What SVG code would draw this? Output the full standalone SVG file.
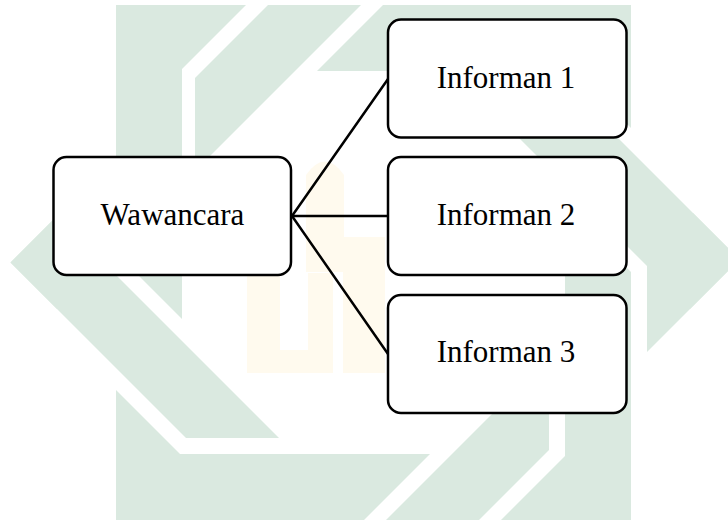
<svg xmlns="http://www.w3.org/2000/svg" width="728" height="520" viewBox="0 0 728 520">
  <defs>
    <style>
      .wm { fill: #dae9e0; }
      .wm-gold { fill: #fffaee; }
      .box { fill: #ffffff; stroke: #000000; stroke-width: 2.5; }
      .label { font-family: "Liberation Serif", "Times New Roman", serif; font-size: 31px; fill: #000000; text-anchor: middle; }
      .link { stroke: #000000; stroke-width: 2.5; fill: none; stroke-linecap: round; }
    </style>
    <clipPath id="page">
      <rect x="0" y="5" width="728" height="515"/>
    </clipPath>
  </defs>

  <rect x="0" y="0" width="728" height="520" fill="#ffffff"/>

  <!-- background emblem: interlaced square and diamond bands -->
  <g id="watermark" clip-path="url(#page)">
    <!-- square: top, left, bottom, right bands -->
    <polygon class="wm" points="116,5 246,5 180,71 116,71"/>
    <polygon class="wm" points="383,5 631,5 631,71 317,71"/>
    <polygon class="wm" points="116,5 182,5 182,319 116,253"/>
    <polygon class="wm" points="116,390 182,456 182,520 116,520"/>
    <polygon class="wm" points="116,454 430,454 364,520 116,520"/>
    <polygon class="wm" points="567,454 631,454 631,520 501,520"/>
    <polygon class="wm" points="565,5 631,5 631,128 565,62"/>
    <polygon class="wm" points="565,206 631,272 631,520 565,520"/>
    <!-- diamond: four slanted bands -->
    <polygon class="wm" points="195,78 195,171 366,0 273,0"/>
    <polygon class="wm" points="10.5,262.5 103,170 103,263 57,309"/>
    <polygon class="wm" points="57,216 279,438 186,438 10.5,262.5"/>
    <polygon class="wm" points="468,87 567,87 739.5,259.5 690,309"/>
    <polygon class="wm" points="647,259 693,213 739.5,259.5 647,352"/>
    <polygon class="wm" points="549,357 549,450 479,520 386,520"/>
    <!-- faint gold lettering in the centre -->
    <path class="wm-gold" d="M247,273 H333 V373 H247 Z M280,273 V350 H308 V273 Z" fill-rule="evenodd"/>
    <rect class="wm-gold" x="343" y="237" width="42" height="136"/>
    <path class="wm-gold" d="M306,272 V175 Q325,148 344,175 V272 Z"/>
  </g>

  <g id="connectors">
    <line class="link" x1="292" y1="216" x2="388" y2="79"/>
    <line class="link" x1="292" y1="216" x2="388" y2="216"/>
    <line class="link" x1="292" y1="216" x2="388" y2="354"/>
  </g>

  <g id="node-wawancara">
    <rect class="box" x="53.5" y="157" width="237.5" height="118" rx="13" ry="13"/>
    <text class="label" x="172.5" y="225">Wawancara</text>
  </g>

  <g id="node-informan-1">
    <rect class="box" x="388" y="19.5" width="238.5" height="118" rx="13" ry="13"/>
    <text class="label" x="506" y="88">Informan 1</text>
  </g>

  <g id="node-informan-2">
    <rect class="box" x="388" y="157" width="238.5" height="118" rx="13" ry="13"/>
    <text class="label" x="506" y="225">Informan 2</text>
  </g>

  <g id="node-informan-3">
    <rect class="box" x="388" y="295" width="238.5" height="118" rx="13" ry="13"/>
    <text class="label" x="506" y="362">Informan 3</text>
  </g>
</svg>
